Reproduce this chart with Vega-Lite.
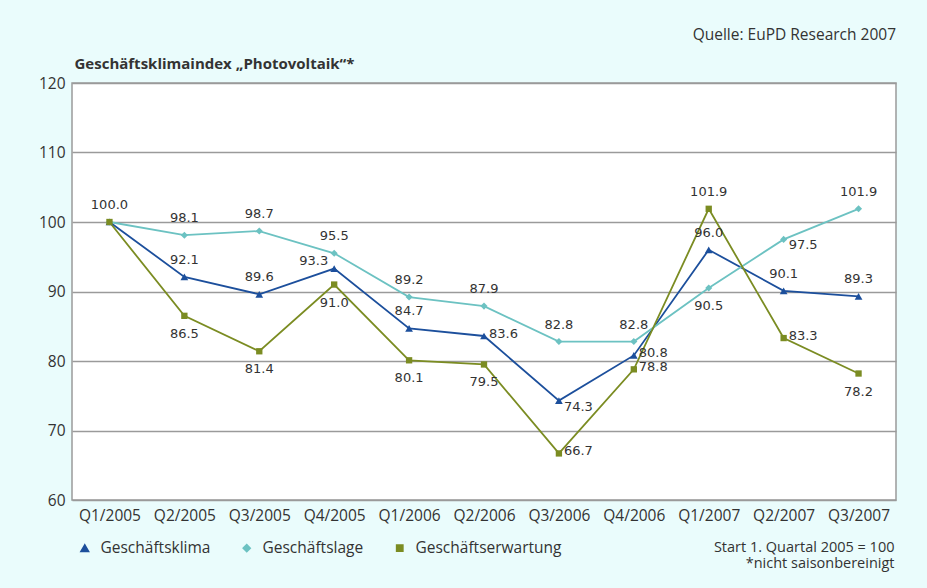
{
  "$schema": "https://vega.github.io/schema/vega-lite/v6.json",
  "width": 824,
  "height": 417,
  "autosize": {"type": "none"},
  "padding": {"left": 72, "top": 83, "right": 31, "bottom": 88},
  "background": "#eafcfc",
  "config": {
    "font": "Open Sans",
    "view": {"fill": "#ffffff", "stroke": "#9a9a9a", "strokeWidth": 1.5},
    "axis": {"labelColor": "#333333", "labelFontSize": 15.5, "ticks": false, "domain": false, "titleColor": "#333333"}
  },
  "title": {"text": "Quelle: EuPD Research 2007", "anchor": "end", "frame": "group", "fontSize": 15.5, "fontWeight": "normal", "color": "#333333", "offset": 13},
  "data": {
    "values": [
      {"q": "Q1/2005", "s": "Geschäftsklima", "v": 100.0},
      {"q": "Q2/2005", "s": "Geschäftsklima", "v": 92.1},
      {"q": "Q3/2005", "s": "Geschäftsklima", "v": 89.6},
      {"q": "Q4/2005", "s": "Geschäftsklima", "v": 93.3},
      {"q": "Q1/2006", "s": "Geschäftsklima", "v": 84.7},
      {"q": "Q2/2006", "s": "Geschäftsklima", "v": 83.6},
      {"q": "Q3/2006", "s": "Geschäftsklima", "v": 74.3},
      {"q": "Q4/2006", "s": "Geschäftsklima", "v": 80.8},
      {"q": "Q1/2007", "s": "Geschäftsklima", "v": 96.0},
      {"q": "Q2/2007", "s": "Geschäftsklima", "v": 90.1},
      {"q": "Q3/2007", "s": "Geschäftsklima", "v": 89.3},
      {"q": "Q1/2005", "s": "Geschäftslage", "v": 100.0},
      {"q": "Q2/2005", "s": "Geschäftslage", "v": 98.1},
      {"q": "Q3/2005", "s": "Geschäftslage", "v": 98.7},
      {"q": "Q4/2005", "s": "Geschäftslage", "v": 95.5},
      {"q": "Q1/2006", "s": "Geschäftslage", "v": 89.2},
      {"q": "Q2/2006", "s": "Geschäftslage", "v": 87.9},
      {"q": "Q3/2006", "s": "Geschäftslage", "v": 82.8},
      {"q": "Q4/2006", "s": "Geschäftslage", "v": 82.8},
      {"q": "Q1/2007", "s": "Geschäftslage", "v": 90.5},
      {"q": "Q2/2007", "s": "Geschäftslage", "v": 97.5},
      {"q": "Q3/2007", "s": "Geschäftslage", "v": 101.9},
      {"q": "Q1/2005", "s": "Geschäftserwartung", "v": 100.0},
      {"q": "Q2/2005", "s": "Geschäftserwartung", "v": 86.5},
      {"q": "Q3/2005", "s": "Geschäftserwartung", "v": 81.4},
      {"q": "Q4/2005", "s": "Geschäftserwartung", "v": 91.0},
      {"q": "Q1/2006", "s": "Geschäftserwartung", "v": 80.1},
      {"q": "Q2/2006", "s": "Geschäftserwartung", "v": 79.5},
      {"q": "Q3/2006", "s": "Geschäftserwartung", "v": 66.7},
      {"q": "Q4/2006", "s": "Geschäftserwartung", "v": 78.8},
      {"q": "Q1/2007", "s": "Geschäftserwartung", "v": 101.9},
      {"q": "Q2/2007", "s": "Geschäftserwartung", "v": 83.3},
      {"q": "Q3/2007", "s": "Geschäftserwartung", "v": 78.2}
    ]
  },
  "encoding": {
    "x": {
      "field": "q", "type": "ordinal", "sort": null,
      "scale": {"type": "point", "padding": 0.5},
      "axis": {
        "labelAngle": 0, "labelPadding": 8, "grid": false,
        "title": ["Start 1. Quartal 2005 = 100", "*nicht saisonbereinigt"],
        "titleAlign": "right", "titleAnchor": null, "titleX": 822, "titleY": 40, "titleBaseline": "top",
        "titleFontSize": 14.5, "titleFontWeight": "normal", "titleLineHeight": 16
      }
    },
    "y": {
      "field": "v", "type": "quantitative",
      "scale": {"domain": [60, 120], "nice": false, "zero": false},
      "axis": {
        "values": [60, 70, 80, 90, 100, 110, 120],
        "grid": true, "gridColor": "#9a9a9a", "gridWidth": 1.5, "labelPadding": 7,
        "title": "Geschäftsklimaindex „Photovoltaik“*",
        "titleAngle": 0, "titleAlign": "left", "titleBaseline": "middle", "titleX": 2, "titleY": -20,
        "titleFontSize": 15, "titleFontWeight": "bold"
      }
    },
    "color": {
      "field": "s", "type": "nominal",
      "scale": {"domain": ["Geschäftsklima", "Geschäftslage", "Geschäftserwartung"], "range": ["#1c4f9c", "#6cc2c2", "#7b8c22"]},
      "legend": {
        "title": null, "orient": "none", "legendX": 5, "legendY": 457, "direction": "horizontal",
        "symbolSize": 100, "labelFontSize": 15.5, "labelColor": "#333333", "labelOffset": 8, "columnPadding": 28, "padding": 0
      }
    }
  },
  "layer": [
    {"mark": {"type": "line", "strokeWidth": 1.8}},
    {
      "mark": {"type": "point", "filled": true, "opacity": 1},
      "encoding": {
        "shape": {"field": "s", "type": "nominal", "scale": {"domain": ["Geschäftsklima", "Geschäftslage", "Geschäftserwartung"], "range": ["triangle-up", "diamond", "square"]}, "legend": null},
        "size": {"field": "s", "type": "nominal", "scale": {"domain": ["Geschäftsklima", "Geschäftslage", "Geschäftserwartung"], "range": [60, 40, 55]}, "legend": null}
      }
    },
    {
      "transform": [{"filter": "(datum.s === 'Geschäftslage' && indexof(['Q2/2005','Q3/2005','Q4/2005','Q1/2006','Q2/2006','Q3/2006','Q4/2006','Q3/2007'], datum.q) >= 0) || (datum.s === 'Geschäftsklima' && indexof(['Q2/2005','Q3/2005','Q1/2006','Q1/2007','Q2/2007','Q3/2007'], datum.q) >= 0) || (datum.s === 'Geschäftserwartung' && indexof(['Q1/2005','Q1/2007'], datum.q) >= 0)"}],
      "mark": {"type": "text", "font": "DejaVu Sans", "fontSize": 13, "baseline": "middle", "align": "center", "dy": -17},
      "encoding": {"text": {"field": "v", "type": "quantitative", "format": ".1f"}, "color": {"value": "#333333"}}
    },
    {
      "transform": [{"filter": "(datum.s === 'Geschäftslage' && datum.q === 'Q1/2007') || (datum.s === 'Geschäftserwartung' && indexof(['Q2/2005','Q3/2005','Q4/2005','Q1/2006','Q2/2006','Q3/2007'], datum.q) >= 0)"}],
      "mark": {"type": "text", "font": "DejaVu Sans", "fontSize": 13, "baseline": "middle", "align": "center", "dy": 18},
      "encoding": {"text": {"field": "v", "type": "quantitative", "format": ".1f"}, "color": {"value": "#333333"}}
    },
    {
      "transform": [{"filter": "(datum.s === 'Geschäftsklima' && indexof(['Q2/2006','Q4/2006'], datum.q) >= 0) || (datum.s === 'Geschäftserwartung' && indexof(['Q3/2006','Q4/2006','Q2/2007'], datum.q) >= 0)"}],
      "mark": {"type": "text", "font": "DejaVu Sans", "fontSize": 13, "baseline": "middle", "align": "left", "dx": 5, "dy": -2},
      "encoding": {"text": {"field": "v", "type": "quantitative", "format": ".1f"}, "color": {"value": "#333333"}}
    },
    {
      "transform": [{"filter": "(datum.s === 'Geschäftsklima' && datum.q === 'Q3/2006') || (datum.s === 'Geschäftslage' && datum.q === 'Q2/2007')"}],
      "mark": {"type": "text", "font": "DejaVu Sans", "fontSize": 13, "baseline": "middle", "align": "left", "dx": 5, "dy": 6},
      "encoding": {"text": {"field": "v", "type": "quantitative", "format": ".1f"}, "color": {"value": "#333333"}}
    },
    {
      "transform": [{"filter": "datum.s === 'Geschäftsklima' && datum.q === 'Q4/2005'"}],
      "mark": {"type": "text", "font": "DejaVu Sans", "fontSize": 13, "baseline": "middle", "align": "right", "dx": -6, "dy": -8},
      "encoding": {"text": {"field": "v", "type": "quantitative", "format": ".1f"}, "color": {"value": "#333333"}}
    }
  ]
}
